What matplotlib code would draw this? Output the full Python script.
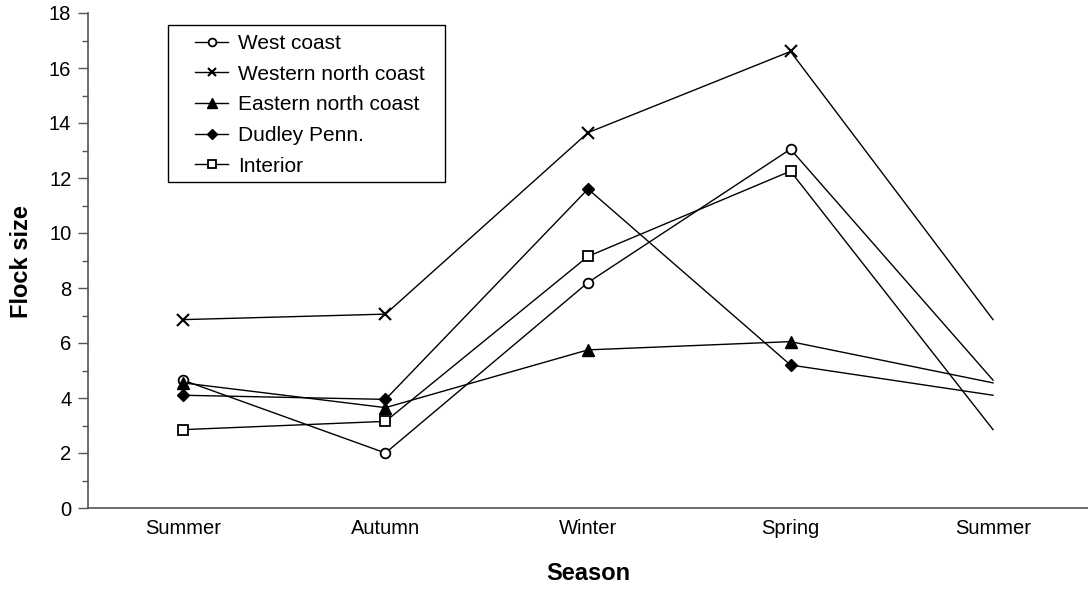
import matplotlib
matplotlib.use("Agg")
import matplotlib.pyplot as plt
from matplotlib.lines import Line2D
from matplotlib.patches import Rectangle
from matplotlib.ticker import MultipleLocator

plt.rcParams['font.family'] = ['Liberation Sans', 'DejaVu Sans']

seasons = ["Summer", "Autumn", "Winter", "Spring", "Summer"]

west_coast = [4.65, 2.0, 8.2, 13.05, 4.65]
western_north_coast = [6.85, 7.05, 13.65, 16.6, 6.85]
eastern_north_coast = [4.55, 3.65, 5.75, 6.05, 4.55]
dudley_penn = [4.1, 3.95, 11.6, 5.2, 4.1]
interior = [2.85, 3.15, 9.15, 12.25, 2.85]

series = [
    ("West coast", west_coast, dict(marker="o", mfc="white", ms=7, mew=1.3)),
    ("Western north coast", western_north_coast, dict(marker="x", ms=8, mew=1.5)),
    ("Eastern north coast", eastern_north_coast, dict(marker="^", mfc="black", ms=8.5)),
    ("Dudley Penn.", dudley_penn, dict(marker="D", mfc="black", ms=6)),
    ("Interior", interior, dict(marker="s", mfc="white", ms=7.5, mew=1.3)),
]

W, H = 1088, 590
fig = plt.figure(figsize=(W / 100, H / 100), dpi=100)
ax = fig.add_axes([88 / W, (H - 508) / H, 1 - 88 / W, (508 - 13) / H])

x = list(range(len(seasons)))
handles = []
for name, vals, style in series:
    # markers on the four seasonal points; the closing summer point repeats the first
    ax.plot(x, vals, color="black", lw=1.0, markevery=[0, 1, 2, 3],
            mec="black", **style)
    handles.append(Line2D([], [], color="black", lw=1.0, mec="black",
                          label=name, **style))

ax.set_xlim(-0.469, 4.469)
ax.set_ylim(0, 18)
ax.set_xticks(x)
ax.set_xticklabels(seasons, fontsize=14.5)
ax.tick_params(axis="x", length=0, pad=8)
ax.yaxis.set_major_locator(MultipleLocator(2))
ax.yaxis.set_minor_locator(MultipleLocator(1))
ax.tick_params(axis="y", which="major", direction="out", length=7, width=1,
               labelsize=14.5, color="#555555", pad=5)
ax.tick_params(axis="y", which="minor", direction="out", length=4, width=1,
               color="#555555")

for side in ("top", "right"):
    ax.spines[side].set_visible(False)
for side in ("left", "bottom"):
    ax.spines[side].set_color("#555555")
    ax.spines[side].set_linewidth(1.2)

# axis titles
fig.text((88 + 1088) / 2 / W, (H - 574) / H, "Season", fontsize=17,
         fontweight="bold", ha="center", va="center")
fig.text(22 / W, (H - 262) / H, "Flock size", fontsize=17, fontweight="bold",
         rotation=90, ha="center", va="center")

# legend box
box_l, box_t, box_r, box_b = 168, 25, 445, 182
fig.patches.append(Rectangle((box_l / W, (H - box_b) / H),
                             (box_r - box_l) / W, (box_b - box_t) / H,
                             transform=fig.transFigure, fill=False,
                             edgecolor="black", lw=1.0))
leg = fig.legend(handles=handles, loc="upper left",
                 bbox_to_anchor=(195 / W, (H - 34) / H),
                 fontsize=15, frameon=False, numpoints=1, markerscale=0.8,
                 handlelength=1.6, handletextpad=0.45, labelspacing=0.56,
                 borderpad=0, borderaxespad=0)

fig.savefig("out.png", dpi=100)
